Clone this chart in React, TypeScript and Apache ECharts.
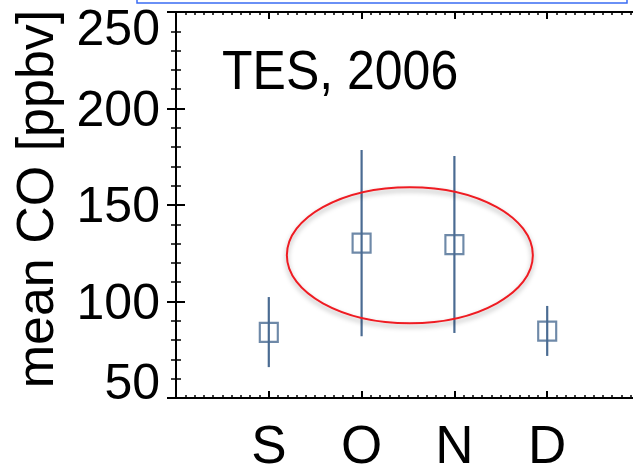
import React, { useEffect, useRef } from "react";
import * as echarts from "echarts";

const months = ["S", "O", "N", "D"];
const monthPos = [1, 2, 3, 4];
const meanCO = [84, 130.3, 129.5, 84.7];
const lowCO = [66, 82, 83.7, 71.8];
const highCO = [102.3, 178.5, 175.4, 97.7];
const yTicks = [50, 100, 150, 200, 250];
const titleText = "TES, 2006";
const yTitle = "mean CO [ppbv]";
// annotation ellipse in data units: center x, center y
const ellipseCenter = [2.52, 124];

const BLUE = "#4a6b92";
const FONT = "Liberation Sans";

export default function App() {
  const ref = useRef<HTMLDivElement>(null);
  useEffect(() => {
    if (!ref.current) return;
    const chart = echarts.init(ref.current, undefined, { renderer: "svg" });
    const axisCommon = {
      axisLine: { show: true, lineStyle: { color: "#000", width: 2 } },
      splitLine: { show: false },
    };
    const xTick = {
      axisTick: { show: true, inside: true, length: 7, lineStyle: { color: "#000", width: 2 } },
      minorTick: { show: true, splitNumber: 10, length: 3, lineStyle: { color: "#000", width: 1.5 } },
    };
    const yTick = {
      axisTick: { show: true, inside: true, length: 9, lineStyle: { color: "#000", width: 2 } },
      minorTick: { show: true, splitNumber: 5, length: 5, lineStyle: { color: "#000", width: 1.5 } },
    };
    const option: any = {
      animation: false,
      backgroundColor: "#fff",
      grid: {
        left: 176,
        top: 12,
        width: 464,
        height: 386,
        containLabel: false,
        outerBoundsMode: "none",
      },
      xAxis: [
        {
          type: "value",
          min: 0,
          max: 5,
          interval: 1,
          position: "bottom",
          ...axisCommon,
          ...xTick,
          axisLabel: {
            show: true,
            margin: 20,
            fontSize: 53,
            fontFamily: FONT,
            color: "#000",
            formatter: (v: number) => {
              const i = monthPos.indexOf(v);
              return i >= 0 ? months[i] : "";
            },
          },
        },
        {
          type: "value",
          min: 0,
          max: 5,
          interval: 1,
          position: "top",
          ...axisCommon,
          ...xTick,
          axisLabel: { show: false },
        },
      ],
      yAxis: [
        {
          type: "value",
          min: 50,
          max: 250,
          interval: 50,
          position: "left",
          ...axisCommon,
          ...yTick,
          axisLabel: {
            show: true,
            margin: 16,
            fontSize: 50,
            lineHeight: 32,
            fontFamily: FONT,
            color: "#000",
            verticalAlignMinLabel: "bottom",
            verticalAlignMaxLabel: "top",
            formatter: (v: number) => (yTicks.indexOf(v) >= 0 ? String(v) : ""),
          },
        },
        {
          type: "value",
          min: 50,
          max: 250,
          interval: 50,
          position: "right",
          ...axisCommon,
          ...yTick,
          axisLabel: { show: false },
        },
      ],
      series: [
        {
          type: "custom",
          xAxisIndex: 0,
          yAxisIndex: 0,
          data: monthPos.map((x, i) => [x, lowCO[i], highCO[i]]),
          renderItem: (params: any, api: any) => {
            const lo = api.coord([api.value(0), api.value(1)]);
            const hi = api.coord([api.value(0), api.value(2)]);
            return {
              type: "line",
              shape: { x1: lo[0], y1: lo[1], x2: hi[0], y2: hi[1] },
              style: { stroke: BLUE, lineWidth: 2.2 },
            };
          },
          z: 2,
        },
        {
          type: "scatter",
          xAxisIndex: 0,
          yAxisIndex: 0,
          data: monthPos.map((x, i) => [x, meanCO[i]]),
          symbol: "rect",
          symbolSize: [18, 19],
          itemStyle: { color: "rgba(0,0,0,0)", borderColor: BLUE, borderWidth: 2.2 },
          z: 3,
        },
      ],
    };
    chart.setOption(option);
    const c = chart.convertToPixel({ gridIndex: 0 }, ellipseCenter) as number[];
    chart.setOption({
      graphic: [
        {
          type: "text",
          x: 222,
          y: 69,
          scaleY: 1.12,
          style: {
            text: titleText,
            fontSize: 50,
            fontFamily: FONT,
            fill: "#000",
            verticalAlign: "middle",
            align: "left",
          },
        },
        {
          type: "text",
          x: 35,
          y: 199,
          rotation: Math.PI / 2,
          style: {
            text: yTitle,
            fontSize: 52,
            fontFamily: FONT,
            fill: "#000",
            verticalAlign: "middle",
            align: "center",
          },
        },
        {
          type: "ellipse",
          shape: { cx: c[0], cy: c[1], rx: 123, ry: 68 },
          style: {
            fill: "none",
            stroke: "#ee1c24",
            lineWidth: 2,
            shadowBlur: 5,
            shadowColor: "rgba(0,0,0,0.35)",
            shadowOffsetY: 3,
          },
          z: 10,
        },
        {
          type: "rect",
          shape: { x: 137, y: -20, width: 490, height: 23 },
          style: { fill: "none", stroke: "#3a6cf4", lineWidth: 1.5 },
        },
      ],
    });
    return () => chart.dispose();
  }, []);
  return (
    <div
      ref={ref}
      style={{ position: "fixed", left: 0, top: 0, width: 633, height: 473 }}
    />
  );
}
